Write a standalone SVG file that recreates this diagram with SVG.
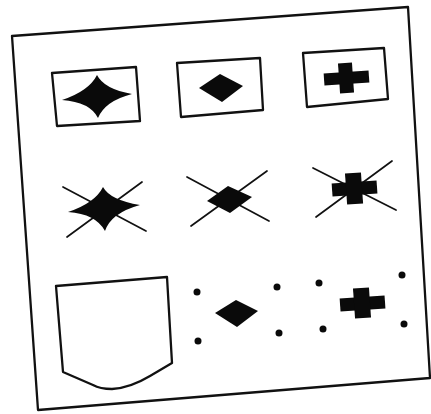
<svg xmlns="http://www.w3.org/2000/svg" width="431" height="414" viewBox="0 0 431 414">
<style>
.ln{fill:none;stroke:#111;stroke-width:2.3;stroke-linejoin:round}
.x{stroke:#111;stroke-width:1.7;stroke-linecap:round}
.f{fill:#0a0a0a}
</style>
<rect width="431" height="414" fill="#fff"/>
<g id="page"><polygon class="ln" points="12,36 408,7 430,378 38,410" stroke-width="2.5"/></g>
<g id="box-star">
<polygon class="ln" points="52,73 136,67 140,121 57,126"/>
<path class="f" d="M62,100 Q89,91 97,75 Q104,89 132,94 Q105,101 98,118 Q90,102 62,100Z"/>
</g>
<g id="box-diamond">
<polygon class="ln" points="177,63 260,58 263,110 181,117"/>
<polygon class="f" points="199,88 220,74 243,86 222,102"/>
</g>
<g id="box-cross">
<polygon class="ln" points="303,53 384,48 388,99 307,107"/>
<g transform="rotate(-4 346 78)"><rect class="f" x="324" y="72" width="45" height="12"/><rect class="f" x="339" y="63" width="14" height="30"/></g>
</g>
<g id="star-x">
<line class="x" x1="63" y1="187" x2="146" y2="231"/>
<line class="x" x1="67" y1="237" x2="142" y2="182"/>
<path class="f" d="M68,212 Q95,203 103,187 Q110,200 140,205 Q111,213 105,231 Q96,214 68,212Z"/>
</g>
<g id="diamond-x">
<line class="x" x1="187" y1="177" x2="269" y2="221"/>
<line class="x" x1="191" y1="226" x2="267" y2="171"/>
<polygon class="f" points="207,201 228,186 252,197 230,213"/>
</g>
<g id="cross-x">
<line class="x" x1="313" y1="168" x2="396" y2="210"/>
<line class="x" x1="316" y1="217" x2="392" y2="161"/>
<g transform="rotate(-4 354 188)"><rect class="f" x="332" y="182" width="45" height="13"/><rect class="f" x="346" y="173" width="16" height="31"/></g>
</g>
<g id="pocket">
<path class="ln" d="M56,286 L167,277 L172,363 L150,376 Q130,388 112,389 Q100,389 93,385 L63,372 Z"/>
</g>
<g id="diamond-dots">
<circle class="f" cx="197" cy="292" r="3.5"/>
<circle class="f" cx="198" cy="341" r="3.5"/>
<circle class="f" cx="277" cy="287" r="3.5"/>
<circle class="f" cx="279" cy="333" r="3.5"/>
<polygon class="f" points="215,313 236,300 258,311 237,327"/>
</g>
<g id="cross-dots">
<circle class="f" cx="319" cy="283" r="3.5"/>
<circle class="f" cx="323" cy="329" r="3.5"/>
<circle class="f" cx="402" cy="275" r="3.5"/>
<circle class="f" cx="404" cy="324" r="3.5"/>
<g transform="rotate(-4 362 303)"><rect class="f" x="340" y="297" width="45" height="13"/><rect class="f" x="354" y="288" width="16" height="30"/></g>
</g>
</svg>
